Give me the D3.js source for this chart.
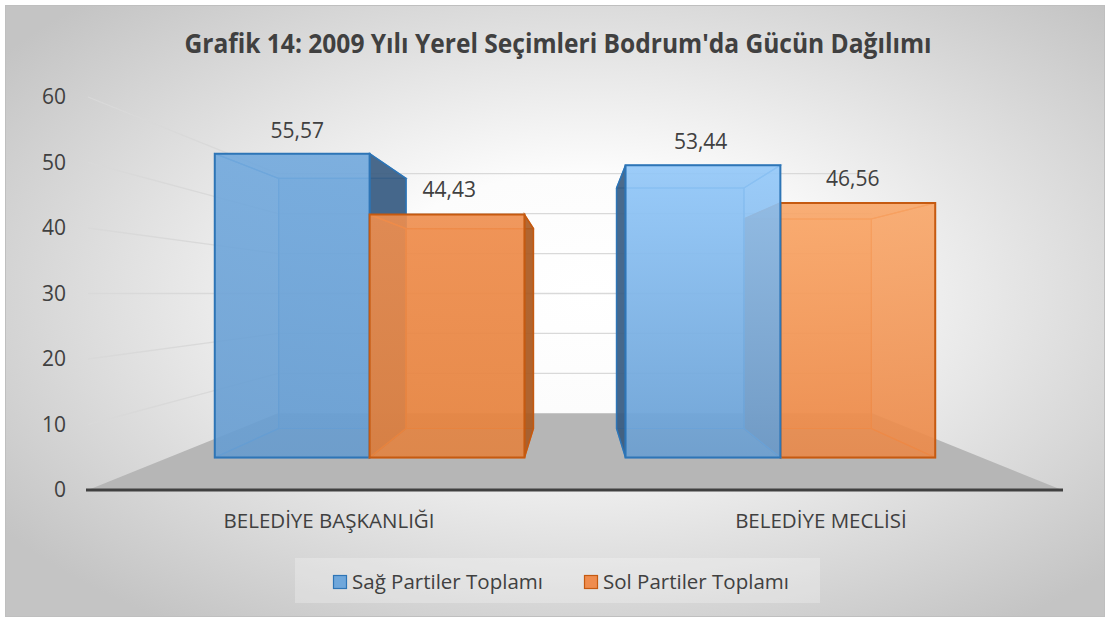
<!DOCTYPE html>
<html>
<head>
<meta charset="utf-8">
<script src="https://cdn.jsdelivr.net/npm/d3@7"></script>
<style>
  html, body { margin: 0; padding: 0; background: #ffffff; }
  svg { display: block; }
  text { font-family: "Open Sans", "Noto Sans", sans-serif; }
</style>
</head>
<body>
<svg id="chart" width="1110" height="623"></svg>
<script>
// ---------- data ----------
const title = "Grafik 14: 2009 Yılı Yerel Seçimleri Bodrum'da Gücün Dağılımı";
const categories = ["BELEDİYE BAŞKANLIĞI", "BELEDİYE MECLİSİ"];
const seriesNames = ["Sağ Partiler Toplamı", "Sol Partiler Toplamı"];
const sagValues = [55.57, 53.44];
const solValues = [44.43, 46.56];
const yTicks = [0, 10, 20, 30, 40, 50, 60];
const valueLabels = [["55,57", "53,44"], ["44,43", "46,56"]];

// ---------- layout / style ----------
const svg = d3.select("#chart");

const y = d3.scaleLinear().domain([0, 60]).range([490, 97]);
const x0 = d3.scaleBand().domain(categories).range([88, 1062])
  .paddingInner(0.246).paddingOuter(0.113);
const x1 = d3.scaleBand().domain(seriesNames).range([0, x0.bandwidth()]).padding(0);

// perspective: depth factors (1 = front plane)
const VX = (88 + 1062) / 2;
const VY = y(30);
const S_BAR_FRONT = 0.835, S_BAR_BACK = 0.687, S_BACK = 0.61, S_LABEL = 0.82;
const P = (xf, yf, s) => [VX + (xf - VX) * s, VY + (yf - VY) * s];
const line = d3.line();
const poly = pts => line(pts) + "Z";

const defs = svg.append("defs");
const bg = defs.append("radialGradient").attr("id", "bg")
  .attr("cx", 0.53).attr("cy", 0.47).attr("r", 0.66);
bg.append("stop").attr("offset", 0).attr("stop-color", "#ffffff");
bg.append("stop").attr("offset", 0.3).attr("stop-color", "#fcfcfc");
bg.append("stop").attr("offset", 1).attr("stop-color", "#c4c4c4");

// background + frame
svg.append("rect").attr("x", 5.5).attr("y", 5.5).attr("width", 1099).attr("height", 611)
  .attr("fill", "url(#bg)").attr("stroke", "#bfbfbf").attr("stroke-width", 1);

// floor
const yb = y(0);
svg.append("path").attr("d", poly([P(88, yb, 1), P(1062, yb, 1), P(1062, yb, S_BACK), P(88, yb, S_BACK)]))
  .attr("fill", "#b6b6b6");

// gridlines: left wall + back wall
svg.append("g").selectAll("path").data(yTicks.filter(d => d > 0)).join("path")
  .attr("d", d => line([P(88, y(d), 1), P(88, y(d), S_BACK), P(1062, y(d), S_BACK)]))
  .attr("fill", "none").attr("stroke", "#d9d9d9").attr("stroke-width", 1.3);

// floor front edge
svg.append("line").attr("x1", 86).attr("x2", 1063).attr("y1", yb).attr("y2", yb)
  .attr("stroke", "#404040").attr("stroke-width", 3);

// y tick labels
svg.append("g").selectAll("text").data(yTicks).join("text")
  .attr("x", 66).attr("y", d => y(d)).attr("dy", "0.35em")
  .attr("text-anchor", "end").attr("font-size", 21).attr("fill", "#404040")
  .text(d => d);

// bars
const styles = {
  "Sağ Partiler Toplamı": {
    top: ["#72a9dd", "#93c8f9"], bot: ["#679dd1", "#6aa0d4"],
    side: "#34567a", stroke: "#2e75b6", inner: "#5b9bd5"
  },
  "Sol Partiler Toplamı": {
    top: ["#ef8e4e", "#f9a769"], bot: ["#e5833f", "#ec8948"],
    side: "#a4561f", stroke: "#c55a11", inner: "#ed7d31"
  }
};
const bars = [];
categories.forEach((c, ci) => {
  [sagValues, solValues].forEach((vals, si) => {
    const s = seriesNames[si];
    const xl = x0(c) + x1(s), xr = xl + x1.bandwidth();
    bars.push({c, ci, s, si, v: vals[ci], xl, xr, label: valueLabels[si][ci]});
  });
});
bars.forEach(b => {
  const st = styles[b.s];
  const g = defs.append("linearGradient").attr("id", `g${b.ci}${b.si}`)
    .attr("x1", 0).attr("y1", 0).attr("x2", 0).attr("y2", 1);
  g.append("stop").attr("offset", 0).attr("stop-color", st.top[b.ci]);
  g.append("stop").attr("offset", 1).attr("stop-color", st.bot[b.ci]);
});

// painter order: farther from the vanishing x first
const order = bars.slice().sort((a, b) =>
  Math.abs((b.xl + b.xr) / 2 - VX) - Math.abs((a.xl + a.xr) / 2 - VX));

const barG = svg.append("g");
order.forEach(b => {
  const st = styles[b.s];
  const yt = y(b.v), y0 = y(0);
  const f = S_BAR_FRONT, k = S_BAR_BACK;
  const g = barG.append("g");
  const fillId = `url(#g${b.ci}${b.si})`;
  // back face
  g.append("path").attr("d", poly([P(b.xl, yt, k), P(b.xr, yt, k), P(b.xr, y0, k), P(b.xl, y0, k)]))
    .attr("fill", fillId).attr("fill-opacity", 0.6).attr("stroke", st.inner).attr("stroke-width", 1.2);
  // bottom & top faces
  g.append("path").attr("d", poly([P(b.xl, y0, f), P(b.xr, y0, f), P(b.xr, y0, k), P(b.xl, y0, k)]))
    .attr("fill", st.side).attr("fill-opacity", 0.2).attr("stroke", st.inner).attr("stroke-width", 1.2);
  g.append("path").attr("d", poly([P(b.xl, yt, f), P(b.xr, yt, f), P(b.xr, yt, k), P(b.xl, yt, k)]))
    .attr("fill", fillId).attr("fill-opacity", 0.35).attr("stroke", st.inner).attr("stroke-width", 1.2);
  // side faces
  const leftVisible = b.xl > VX;
  const xs = leftVisible ? b.xl : b.xr;
  const xh = leftVisible ? b.xr : b.xl;
  g.append("path").attr("d", poly([P(xh, yt, f), P(xh, yt, k), P(xh, y0, k), P(xh, y0, f)]))
    .attr("fill", fillId).attr("fill-opacity", 0.35).attr("stroke", st.inner).attr("stroke-width", 1.2);
  g.append("path").attr("d", poly([P(xs, yt, f), P(xs, yt, k), P(xs, y0, k), P(xs, y0, f)]))
    .attr("fill", st.side).attr("fill-opacity", 0.85).attr("stroke", st.stroke).attr("stroke-width", 1.5);
  // front face
  g.append("path").attr("d", poly([P(b.xl, yt, f), P(b.xr, yt, f), P(b.xr, y0, f), P(b.xl, y0, f)]))
    .attr("fill", fillId).attr("fill-opacity", 0.86).attr("stroke", st.stroke).attr("stroke-width", 2);
});

// value labels
svg.append("g").selectAll("text").data(bars).join("text")
  .attr("x", d => P((d.xl + d.xr) / 2, y(d.v), S_LABEL)[0])
  .attr("y", d => P((d.xl + d.xr) / 2, y(d.v), S_LABEL)[1] - 26)
  .attr("dy", "0.35em").attr("text-anchor", "middle")
  .attr("font-size", 21).attr("fill", "#404040").text(d => d.label);

// category labels
svg.append("g").selectAll("text").data(categories).join("text")
  .attr("x", d => x0(d) + x0.bandwidth() / 2).attr("y", 521).attr("dy", "0.35em")
  .attr("text-anchor", "middle").attr("font-size", 20.5).attr("fill", "#404040").text(d => d);

// title
svg.append("text").attr("x", 558).attr("y", 44).attr("dy", "0.35em")
  .attr("text-anchor", "middle").attr("font-size", 26).attr("font-weight", "bold")
  .attr("fill", "#404040").attr("textLength", 747).attr("lengthAdjust", "spacingAndGlyphs")
  .text(title);

// legend
const leg = svg.append("g");
leg.append("rect").attr("x", 295).attr("y", 558).attr("width", 525).attr("height", 45)
  .attr("fill", "#ffffff").attr("fill-opacity", 0.25);
const legX = [333, 584];
seriesNames.forEach((s, i) => {
  const st = styles[s];
  leg.append("rect").attr("x", legX[i] + 0.5).attr("y", 575.5).attr("width", 13).attr("height", 13)
    .attr("fill", i === 0 ? "#6fa7db" : "#ef8c4e").attr("stroke", st.stroke).attr("stroke-width", 1.2);
  leg.append("text").attr("x", legX[i] + 19).attr("y", 582).attr("dy", "0.35em")
    .attr("font-size", 20.5).attr("fill", "#404040").text(s);
});
</script>
</body>
</html>
